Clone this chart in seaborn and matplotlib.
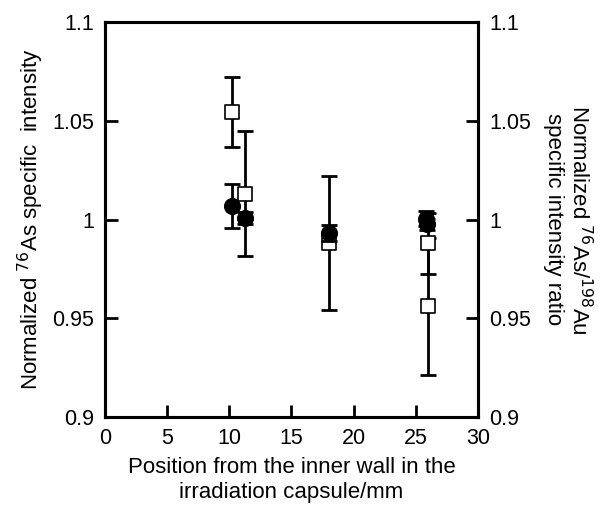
import matplotlib
matplotlib.use("Agg")
import matplotlib.pyplot as plt
import seaborn as sns
import pandas as pd

# 76As specific intensity (filled circles, left axis)
as_pos = [10.2, 11.3, 18.0, 25.8, 25.9]
as_val = [1.0068, 1.0006, 0.9932, 1.0005, 0.9975]
as_err = [0.011, 0.003, 0.004, 0.004, 0.003]

# 76As/198Au ratio (open squares, right axis)
ratio_pos = [10.2, 11.3, 18.0, 26.0, 26.0]
ratio_val = [1.0544, 1.013, 0.988, 0.988, 0.956]
ratio_err = [0.0177, 0.0316, 0.034, 0.0155, 0.0346]

x_ticks = [0, 5, 10, 15, 20, 25, 30]
y_ticks = [0.9, 0.95, 1.0, 1.05, 1.1]
y_tick_labels = ["0.9", "0.95", "1", "1.05", "1.1"]

sns.set_style("ticks", {"axes.edgecolor": "black", "text.color": "black",
                        "axes.labelcolor": "black", "xtick.color": "black",
                        "ytick.color": "black"})
plt.rcParams['font.family'] = ['Liberation Sans', 'DejaVu Sans']

df_as = pd.DataFrame({"pos": as_pos, "val": as_val, "err": as_err})
df_ratio = pd.DataFrame({"pos": ratio_pos, "val": ratio_val, "err": ratio_err})

fig = plt.figure(figsize=(6.02, 5.09), dpi=100)
ax = fig.add_axes([0.1744, 0.1807, 0.6196, 0.7761])
ax2 = ax.twinx()

#======================plotting===================================
ax2.errorbar(df_ratio["pos"], df_ratio["val"], yerr=df_ratio["err"], fmt="none",
             ecolor="black", elinewidth=2, capsize=6, capthick=2, zorder=1)
sns.scatterplot(x="pos", y="val", data=df_ratio, ax=ax2, marker="s", s=115,
                facecolor="white", edgecolor="black", linewidth=1.2, zorder=3)

ax.errorbar(df_as["pos"], df_as["val"], yerr=df_as["err"], fmt="none",
            ecolor="black", elinewidth=2, capsize=6, capthick=2, zorder=2)
sns.scatterplot(x="pos", y="val", data=df_as, ax=ax, marker="o", s=130,
                color="black", edgecolor="black", zorder=4)

# circles drawn above the twin axes
ax.set_zorder(ax2.get_zorder() + 1)
ax.patch.set_visible(False)

for a in (ax, ax2):
    a.set_ylim(0.9, 1.1)
    a.set_yticks(y_ticks)
    a.set_yticklabels(y_tick_labels)
    a.tick_params(direction="in", length=9, width=2, labelsize=15.5, pad=8,
                  colors="black")
    for s in a.spines.values():
        s.set_linewidth(2.2)
        s.set_color("black")

ax.set_xlim(0, 30)
ax.set_xticks(x_ticks)
ax.set_xlabel("Position from the inner wall in the\nirradiation capsule/mm", fontsize=16,
              labelpad=6, color="black")
ax.set_ylabel("Normalized $^{76}$As specific  intensity", fontsize=16, labelpad=4,
              color="black")
ax2.set_ylabel("Normalized $^{76}$As/$^{198}$Au\nspecific intensity ratio", fontsize=16,
               rotation=270, labelpad=44, color="black")
ax2.set_xlabel("")

fig.savefig("out.png", dpi=100)
